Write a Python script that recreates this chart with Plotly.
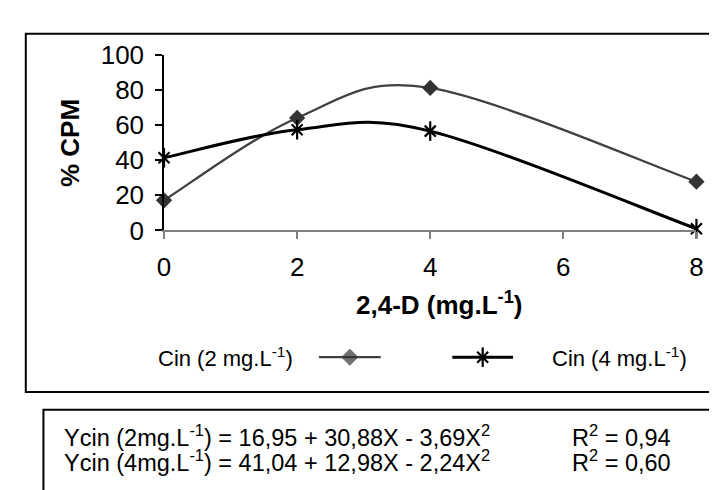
import plotly.graph_objects as go

# ---- data ----
dose = [0, 2, 4, 8]                       # 2,4-D (mg.L-1)
cin2 = [17.2, 64.1, 81.2, 27.8]           # % CPM, Cin 2 mg.L-1
cin4 = [41.4, 57.4, 56.6, 1.0]            # % CPM, Cin 4 mg.L-1
x_ticks = [0, 2, 4, 6, 8]
y_ticks = [0, 20, 40, 60, 80, 100]
name2 = "Cin (2 mg.L<sup>-1</sup>)"
name4 = "Cin (4 mg.L<sup>-1</sup>)"
eq2 = "Ycin (2mg.L<sup>-1</sup>) = 16,95 + 30,88X - 3,69X<sup>2</sup>"
eq4 = "Ycin (4mg.L<sup>-1</sup>) = 41,04 + 12,98X - 2,24X<sup>2</sup>"
r2_2 = "R<sup>2</sup> = 0,94"
r2_4 = "R<sup>2</sup> = 0,60"

# ---- layout constants (pixels) ----
W, H = 717, 490
PX0, PX1 = 152, 695
PY0, PY1 = 34, 221
FONT = "Liberation Sans, Arial, sans-serif"
GRAY = "#404040"


def px(x):
    return x / W


def py(y):
    return 1 - y / H


def smooth_path(xs, ys):
    """Excel-style smoothed line (Catmull-Rom Bezier, 1/6 tension) in data coordinates."""
    n = len(xs)
    P = list(zip(xs, ys))
    d = f"M {P[0][0]},{P[0][1]}"
    for i in range(n - 1):
        p0 = P[i - 1] if i > 0 else P[i]
        p1, p2 = P[i], P[i + 1]
        p3 = P[i + 2] if i + 2 < n else P[i + 1]
        c1 = (p1[0] + (p2[0] - p0[0]) / 6, p1[1] + (p2[1] - p0[1]) / 6)
        c2 = (p2[0] - (p3[0] - p1[0]) / 6, p2[1] - (p3[1] - p1[1]) / 6)
        d += f" C {c1[0]},{c1[1]} {c2[0]},{c2[1]} {p2[0]},{p2[1]}"
    return d


fig = go.Figure()

# smoothed lines drawn through the data axes
fig.add_shape(type="path", xref="x", yref="y", path=smooth_path(dose, cin2),
              line=dict(color=GRAY, width=2.3), layer="below")
fig.add_shape(type="path", xref="x", yref="y", path=smooth_path(dose, cin4),
              line=dict(color="black", width=3), layer="below")

fig.add_trace(go.Scatter(
    x=dose, y=cin2, mode="markers",
    marker=dict(symbol="diamond", size=12.5, color="#333333"), cliponaxis=False, showlegend=False))
fig.add_trace(go.Scatter(
    x=dose, y=cin4, mode="markers",
    marker=dict(symbol="x-thin-open", size=11, color="black", line=dict(color="black", width=2.2)),
    cliponaxis=False, showlegend=False))
fig.add_trace(go.Scatter(
    x=dose, y=cin4, mode="markers",
    marker=dict(symbol="line-ns-open", size=14, color="black", line=dict(color="black", width=2.2)),
    cliponaxis=False, showlegend=False))

# legend samples on a hidden pixel-space axis pair
LEG_Y = 356
fig.add_trace(go.Scatter(
    x=[310, 341.5, 373], y=[LEG_Y] * 3, xaxis="x2", yaxis="y2", mode="lines+markers",
    line=dict(color=GRAY, width=2.3), marker=dict(symbol="diamond", size=[0, 12.5, 0], color="#333333"),
    showlegend=False, hoverinfo="skip"))
fig.add_trace(go.Scatter(
    x=[446, 477, 508], y=[LEG_Y] * 3, xaxis="x2", yaxis="y2", mode="lines",
    line=dict(color="black", width=3), showlegend=False, hoverinfo="skip"))
fig.add_trace(go.Scatter(
    x=[477], y=[LEG_Y], xaxis="x2", yaxis="y2", mode="markers",
    marker=dict(symbol="x-thin-open", size=11, color="black", line=dict(color="black", width=2.2)),
    showlegend=False, hoverinfo="skip"))
fig.add_trace(go.Scatter(
    x=[477], y=[LEG_Y], xaxis="x2", yaxis="y2", mode="markers",
    marker=dict(symbol="line-ns-open", size=14, color="black", line=dict(color="black", width=2.2)),
    showlegend=False, hoverinfo="skip"))

fig.update_layout(
    width=W, height=H, margin=dict(l=0, r=0, t=0, b=0),
    paper_bgcolor="white", plot_bgcolor="rgba(0,0,0,0)",
    font=dict(family=FONT, color="black", size=24),
    xaxis=dict(domain=[px(PX0), px(PX1)], range=[0, 8], tickvals=x_ticks, ticktext=[str(v) for v in x_ticks],
               showgrid=False, zeroline=False, showline=True, linecolor="#808080", linewidth=1.5,
               ticks="outside", ticklen=7, tickcolor="#808080", tickwidth=1.5,
               tickfont=dict(size=26), ticklabelstandoff=6, anchor="y"),
    yaxis=dict(domain=[py(PY1), py(PY0)], range=[0, 100], tickvals=y_ticks,
               showgrid=False, zeroline=False, showline=True, linecolor="black", linewidth=1.5,
               ticks="outside", ticklen=7, tickcolor="black", tickwidth=1.5,
               tickfont=dict(size=26), ticklabelstandoff=6, anchor="x"),
    xaxis2=dict(domain=[0, 1], range=[0, W], visible=False, anchor="y2"),
    yaxis2=dict(domain=[0, 1], range=[H, 0], visible=False, anchor="x2"),
    showlegend=False,
)

# boxes
fig.add_shape(type="rect", xref="paper", yref="paper", x0=px(11), x1=px(W + 30), y0=py(393), y1=py(11.5),
              line=dict(color="black", width=2))
fig.add_shape(type="rect", xref="paper", yref="paper", x0=px(29), x1=px(W + 30), y0=py(H + 30), y1=py(412),
              line=dict(color="black", width=2))

ann = []
ann.append(dict(text="<b>% CPM</b>", x=px(56), y=py(128), textangle=-90, font=dict(size=26),
                xanchor="center", yanchor="middle"))
ann.append(dict(text="<b>2,4-D (mg.L<sup>-1</sup>)</b>", x=px(432), y=py(299), font=dict(size=26),
                xanchor="center", yanchor="middle"))
ann.append(dict(text=name2, x=px(286), y=py(LEG_Y), font=dict(size=22), xanchor="right", yanchor="middle"))
ann.append(dict(text=name4, x=px(546), y=py(LEG_Y), font=dict(size=22), xanchor="left", yanchor="middle"))
ann.append(dict(text=eq2, x=px(48), y=py(440), font=dict(size=23.5), xanchor="left", yanchor="middle"))
ann.append(dict(text=eq4, x=px(48), y=py(467), font=dict(size=23.5), xanchor="left", yanchor="middle"))
ann.append(dict(text=r2_2, x=px(566), y=py(440), font=dict(size=23.5), xanchor="left", yanchor="middle"))
ann.append(dict(text=r2_4, x=px(566), y=py(467), font=dict(size=23.5), xanchor="left", yanchor="middle"))
for a in ann:
    a.update(xref="paper", yref="paper", showarrow=False)
fig.update_layout(annotations=ann)

fig.write_html("out.html")
